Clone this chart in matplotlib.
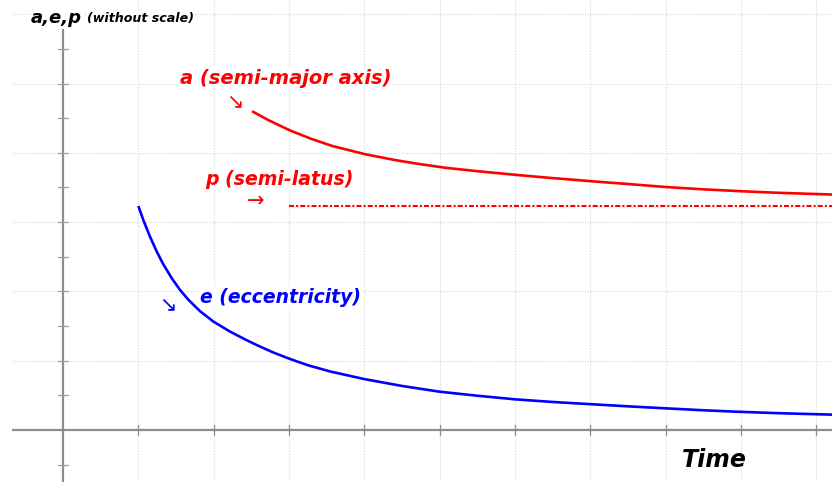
import matplotlib
matplotlib.use("Agg")
import matplotlib.pyplot as plt

# ---- data (arbitrary units: x grid step = 1, y grid step = 1) ----
a_time = [2.51, 2.73, 3.02, 3.30, 3.57, 4.01, 4.41, 4.72, 5.07, 5.5, 6.03, 6.5, 7.13, 7.5, 8.02, 8.5, 9.02, 9.5, 10.01, 10.21]
a_vals = [4.60, 4.47, 4.32, 4.20, 4.10, 3.98, 3.895, 3.84, 3.785, 3.735, 3.68, 3.635, 3.58, 3.55, 3.505, 3.473, 3.445, 3.423, 3.405, 3.398]

e_time = [1.0, 1.066, 1.155, 1.244, 1.332, 1.444, 1.554, 1.664, 1.819, 1.996, 2.218, 2.44, 2.594, 2.8, 3.015, 3.25, 3.546, 4.0, 4.5, 5.0, 5.5, 6.0, 6.5, 7.0, 7.5, 8.0, 8.5, 9.0, 9.5, 10.0, 10.21]
e_vals = [3.232, 3.03, 2.789, 2.575, 2.39, 2.19, 2.02, 1.88, 1.715, 1.565, 1.42, 1.295, 1.215, 1.115, 1.025, 0.935, 0.845, 0.735, 0.636, 0.553, 0.495, 0.443, 0.405, 0.373, 0.342, 0.313, 0.285, 0.262, 0.243, 0.228, 0.222]

p_time = [3.0, 10.25]
p_vals = [3.237, 3.237]

x_gridlines = [1, 2, 3, 4, 5, 6, 7, 8, 9, 10]
y_gridlines = [1, 2, 3, 4, 5, 6]
y_ticks = [-0.5, 0.5, 1, 1.5, 2, 2.5, 3, 3.5, 4, 4.5, 5, 5.5]

title_main = "a,e,p"
title_sub = "(without scale)"
xlabel = "Time"
label_a = "a (semi-major axis)"
label_p = "p (semi-latus)"
label_e = "e (eccentricity)"

RED = "#ff0000"
BLUE = "#0000ff"
GRID = "#c9dcc9"
AXIS = "#8c8c8c"

fig = plt.figure(figsize=(8.32, 4.82), dpi=100)
ax = fig.add_axes([0, 0, 1, 1])
ax.set_xlim(-0.837, 10.21)
ax.set_ylim(-0.75, 6.205)
ax.axis("off")

# grid
for gx in x_gridlines:
    ax.plot([gx, gx], [-0.75, 6.205], color=GRID, lw=0.8, ls=(0, (1, 1.5)), zorder=1)
for gy in y_gridlines:
    ax.plot([-0.677, 10.21], [gy, gy], color=GRID, lw=0.8, ls=(0, (1, 1.5)), zorder=1)

# axes
ax.plot([-0.677, 10.21], [0, 0], color=AXIS, lw=1.6, zorder=2, solid_capstyle="butt")
ax.plot([0, 0], [-0.75, 5.79], color=AXIS, lw=1.6, zorder=2, solid_capstyle="butt")
for gx in x_gridlines:
    ax.plot([gx, gx], [-0.07, 0.07], color=AXIS, lw=0.9, zorder=2)
for ty in y_ticks:
    ax.plot([-0.066, 0.066], [ty, ty], color="#a0a0a0", lw=0.9, zorder=2)

font = dict(family="DejaVu Sans", weight="bold", style="oblique")
bb = dict(facecolor="white", edgecolor="none", pad=0.5)

# curves
ax.plot(a_time, a_vals, color=RED, lw=1.9, zorder=4, solid_capstyle="butt", solid_joinstyle="round")
ax.plot(e_time, e_vals, color=BLUE, lw=1.9, zorder=4, solid_capstyle="butt", solid_joinstyle="round")
ax.plot(p_time, p_vals, color=RED, lw=1.5, ls=(0, (2.4, 1.0, 1.0, 1.0)), zorder=4)

# labels
ax.text(1.554, 5.079, label_a, color=RED, fontsize=14, ha="left", va="center", bbox=bb, zorder=3, **font)
ax.text(1.886, 3.608, label_p, color=RED, fontsize=13.6, ha="left", va="center", bbox=bb, zorder=3, **font)
ax.text(1.819, 1.919, label_e, color=BLUE, fontsize=13.5, ha="left", va="center", bbox=bb, zorder=3, **font)

# arrows
ax.text(2.284, 4.747, "\u2198", color=RED, fontsize=15, ha="center", va="center", family="DejaVu Sans", bbox=bb, zorder=3)
ax.text(2.556, 3.294, "\u2192", color=RED, fontsize=15, ha="center", va="center", family="DejaVu Sans", bbox=bb, zorder=3)
ax.text(1.394, 1.818, "\u2198", color=BLUE, fontsize=15, ha="center", va="center", family="DejaVu Sans", bbox=bb, zorder=3)

# titles
ax.text(-0.425, 5.945, title_main, color="black", fontsize=13, ha="left", va="center", bbox=bb, zorder=3, **font)
ax.text(0.319, 5.945, title_sub, color="black", fontsize=9.1, ha="left", va="center", bbox=bb, zorder=3, **font)
ax.text(8.22, -0.433, xlabel, color="black", fontsize=17, ha="left", va="center", zorder=3, **font)

fig.savefig("out.png", dpi=100)
